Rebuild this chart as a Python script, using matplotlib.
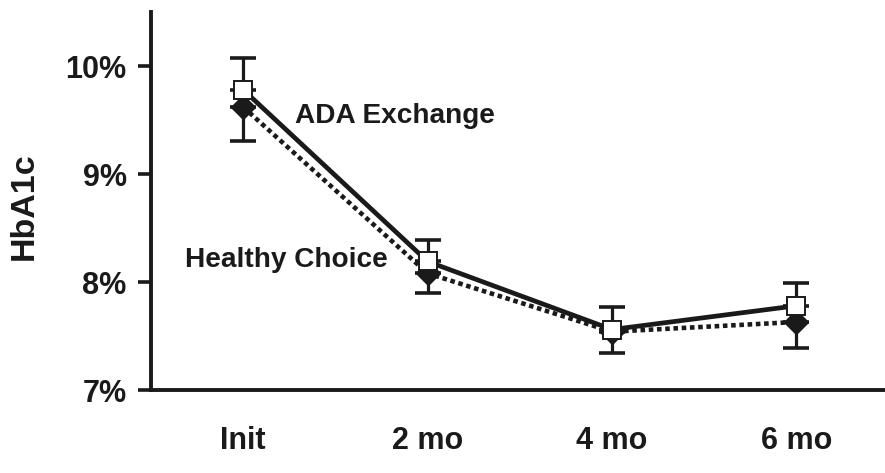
import matplotlib
matplotlib.use("Agg")
import matplotlib.pyplot as plt
from matplotlib.ticker import FixedLocator

plt.rcParams['font.family'] = ['Liberation Sans', 'DejaVu Sans']
plt.rcParams['font.weight'] = 'bold'

# Visit time points
categories = ["Init", "2 mo", "4 mo", "6 mo"]

# Mean HbA1c (%) per group and the one-sided error bar lengths
ada_mean = [9.78, 8.19, 7.56, 7.78]
ada_err_up = [0.29, 0.20, 0.21, 0.21]
hc_mean = [9.62, 8.08, 7.54, 7.63]
hc_err_down = [0.31, 0.18, 0.20, 0.24]

y_ticks = [7, 8, 9, 10]
y_tick_labels = ["7%", "8%", "9%", "10%"]

ink = "#1a1a1a"
x = list(range(len(categories)))

fig = plt.figure(figsize=(8.85, 4.73), dpi=100)
ax = fig.add_axes([151 / 885, 1 - 390 / 473, 1 - 151 / 885, (390 - 12) / 473])

# Healthy Choice: dotted line, filled diamonds, error bars downward
ax.errorbar(x, hc_mean, yerr=[hc_err_down, [0] * len(x)], fmt='none',
            ecolor=ink, elinewidth=2.3, capsize=9.5, capthick=2.6, zorder=2)
ax.plot(x, hc_mean, color=ink, lw=3.3, ls=(0, (1.0, 0.8)),
        dash_capstyle='butt', zorder=3)
ax.plot(x, hc_mean, ls='none', marker='D', ms=12, mfc=ink, mec=ink, zorder=4)

# ADA Exchange: solid line, open squares, error bars upward
ax.errorbar(x, ada_mean, yerr=[[0] * len(x), ada_err_up], fmt='none',
            ecolor=ink, elinewidth=2.3, capsize=9.5, capthick=2.6, zorder=2)
ax.plot(x, ada_mean, color=ink, lw=3.4, solid_capstyle='butt', zorder=5)
ax.plot(x, ada_mean, ls='none', marker='s', ms=13.5, mfc='white', mec=ink,
        mew=1.4, zorder=6)

ax.text(0.282, 9.472, "ADA Exchange", fontsize=20.2, fontweight='bold',
        color=ink, ha='left', va='baseline')
ax.text(-0.315, 8.139, "Healthy Choice", fontsize=20.2, fontweight='bold',
        color=ink, ha='left', va='baseline')

ax.set_xlim(-0.5, 3.48)
ax.set_ylim(7, 10.5)
ax.set_xticks(x)
ax.set_xticklabels(categories, fontsize=22, fontweight='bold', color=ink)
ax.yaxis.set_major_locator(FixedLocator(y_ticks))
ax.set_yticklabels(y_tick_labels, fontsize=22, fontweight='bold', color=ink)
ax.tick_params(axis='x', length=0, pad=26)
ax.tick_params(axis='y', length=9.5, width=2.6, color=ink, pad=8)

ax.set_ylabel("HbA1c", fontsize=24.5, fontweight='bold', color=ink)
ax.yaxis.set_label_coords(-0.152, 0.486)

for side in ('top', 'right'):
    ax.spines[side].set_visible(False)
for side in ('left', 'bottom'):
    ax.spines[side].set_linewidth(2.8)
    ax.spines[side].set_color(ink)
    ax.spines[side].set_capstyle('projecting')

fig.savefig("out.png", dpi=100)
